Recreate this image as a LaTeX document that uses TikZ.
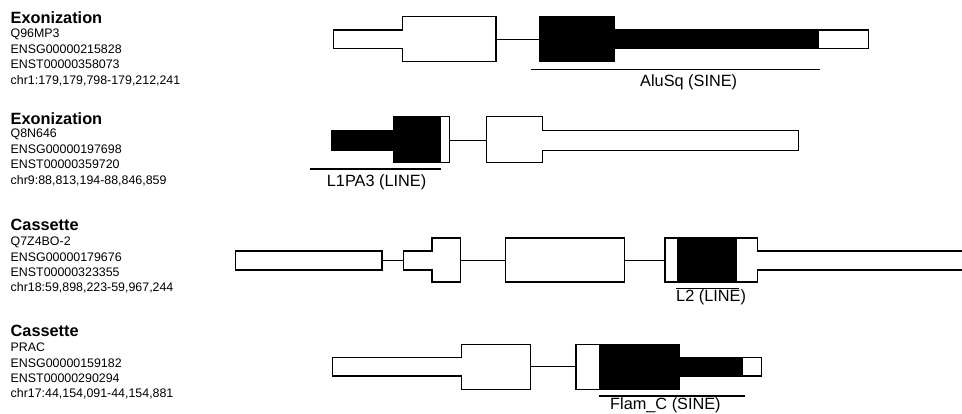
\documentclass[tikz,border=0pt]{standalone}
\usepackage{fontspec}
\setmainfont{Liberation Sans}
\begin{document}
\begin{tikzpicture}[x=1pt,y=-1pt,
  title/.style={anchor=base west,inner sep=0pt,font=\fontsize{16.3}{18}\selectfont\bfseries},
  info/.style={anchor=base west,inner sep=0pt,font=\fontsize{12.4}{14}\selectfont},
  replabel/.style={anchor=base west,inner sep=0pt,font=\fontsize{16.3}{18}\selectfont},
  exonw/.style={draw=black,fill=white,line width=1.1pt,line join=miter},
  exonb/.style={draw=black,fill=black,line width=1.1pt,line join=miter},
  intron/.style={draw=black,line width=1.1pt},
  repline/.style={draw=black,line width=1.1pt}]
\useasboundingbox (0,0) rectangle (962,413);

% ---------- Row 1 ----------
\node[title] (t1) at (10.5,23.3) {Exonization};
\node[info] (t1a) at (10.5,37.7) {Q96MP3};
\node[info] (t1b) at (10.5,53.3) {ENSG00000215828};
\node[info] (t1c) at (10.5,68.9) {ENST00000358073};
\node[info] (t1d) at (10.5,84.5) {chr1:179,179,798-179,212,241};
\path[exonw] (333.3,30) -- (402.7,30) -- (402.7,16.7) -- (496,16.7) -- (496,61.3) -- (402.7,61.3) -- (402.7,48.5) -- (333.3,48.5) -- cycle;
\coordinate (r1i1a) at (496,39.3);
\coordinate (r1i1b) at (540,39.3);
\draw[intron] (r1i1a) -- (r1i1b);
\path[exonb] (540,16.7) -- (614.3,16.7) -- (614.3,30) -- (818.3,30) -- (818.3,48.5) -- (614.3,48.5) -- (614.3,61.3) -- (540,61.3) -- cycle;
\path[exonw] (818.3,30) rectangle (868.3,48.5);
\coordinate (r1u1) at (531,69.3);
\coordinate (r1u2) at (820,69.3);
\draw[repline] (r1u1) -- (r1u2);
\node[replabel] (l1) at (640,86) {AluSq (SINE)};

% ---------- Row 2 ----------
\node[title] (t2) at (10.5,124.3) {Exonization};
\node[info] (t2a) at (10.5,137.7) {Q8N646};
\node[info] (t2b) at (10.5,153.1) {ENSG00000197698};
\node[info] (t2c) at (10.5,168.5) {ENST00000359720};
\node[info] (t2d) at (10.5,184) {chr9:88,813,194-88,846,859};
\path[exonb] (331.7,130.7) -- (394,130.7) -- (394,116.7) -- (440.7,116.7) -- (440.7,162.7) -- (394,162.7) -- (394,150.5) -- (331.7,150.5) -- cycle;
\path[exonw] (440.7,116.7) rectangle (449.3,162.7);
\coordinate (r2i1a) at (449.3,140.7);
\coordinate (r2i1b) at (486.7,140.7);
\draw[intron] (r2i1a) -- (r2i1b);
\path[exonw] (486.7,116.7) -- (542.7,116.7) -- (542.7,130.7) -- (798.3,130.7) -- (798.3,150.5) -- (542.7,150.5) -- (542.7,162.7) -- (486.7,162.7) -- cycle;
\coordinate (r2u1) at (310,169);
\coordinate (r2u2) at (440.7,169);
\draw[repline] (r2u1) -- (r2u2);
\node[replabel] (l2) at (326.7,186) {L1PA3 (LINE)};

% ---------- Row 3 ----------
\node[title] (t3) at (10.5,230) {Cassette};
\node[info] (t3a) at (10.5,245.7) {Q7Z4BO-2};
\node[info] (t3b) at (10.5,261) {ENSG00000179676};
\node[info] (t3c) at (10.5,276.3) {ENST00000323355};
\node[info] (t3d) at (10.5,291.7) {chr18:59,898,223-59,967,244};
\path[exonw] (235.5,251) rectangle (382,270);
\coordinate (r3i1a) at (382,260.5);
\coordinate (r3i1b) at (403.3,260.5);
\draw[intron] (r3i1a) -- (r3i1b);
\path[exonw] (403.3,251) -- (432,251) -- (432,238) -- (460.3,238) -- (460.3,282) -- (432,282) -- (432,270) -- (403.3,270) -- cycle;
\coordinate (r3i2a) at (460.3,260.5);
\coordinate (r3i2b) at (505.7,260.5);
\draw[intron] (r3i2a) -- (r3i2b);
\path[exonw] (505.7,238) rectangle (624.3,282);
\coordinate (r3i3a) at (624.3,260.5);
\coordinate (r3i3b) at (665,260.5);
\draw[intron] (r3i3a) -- (r3i3b);
\path[fill=white] (665,238) -- (757.3,238) -- (757.3,251) -- (963,251) -- (963,270) -- (757.3,270) -- (757.3,282) -- (665,282) -- cycle;
\path[fill=black] (676.7,238) rectangle (737.3,282);
\draw[line width=1.1pt,line join=miter] (963,251) -- (757.3,251) -- (757.3,238) -- (665,238) -- (665,282) -- (757.3,282) -- (757.3,270) -- (963,270);
\coordinate (r3u1) at (676,288.7);
\coordinate (r3u2) at (738.7,288.7);
\draw[repline] (r3u1) -- (r3u2);
\node[replabel] (l3) at (676,301) {L2 (LINE)};

% ---------- Row 4 ----------
\node[title] (t4) at (10.5,336) {Cassette};
\node[info] (t4a) at (10.5,351.7) {PRAC};
\node[info] (t4b) at (10.5,367) {ENSG00000159182};
\node[info] (t4c) at (10.5,382.2) {ENST00000290294};
\node[info] (t4d) at (10.5,397.3) {chr17:44,154,091-44,154,881};
\path[exonw] (332.3,357.7) -- (461.3,357.7) -- (461.3,344.3) -- (530.7,344.3) -- (530.7,389.3) -- (461.3,389.3) -- (461.3,376) -- (332.3,376) -- cycle;
\coordinate (r4i1a) at (530.7,366.7);
\coordinate (r4i1b) at (576,366.7);
\draw[intron] (r4i1a) -- (r4i1b);
\path[exonw] (576,344.3) rectangle (599.3,389.3);
\path[exonb] (599.3,344.3) -- (679.3,344.3) -- (679.3,357.7) -- (742.7,357.7) -- (742.7,376) -- (679.3,376) -- (679.3,389.3) -- (599.3,389.3) -- cycle;
\path[exonw] (742.7,357.7) rectangle (761.7,376);
\coordinate (r4u1) at (599.3,396);
\coordinate (r4u2) at (745,396);
\draw[repline] (r4u1) -- (r4u2);
\node[replabel] (l4) at (610,409.3) {Flam\_C (SINE)};
\end{tikzpicture}
\end{document}
